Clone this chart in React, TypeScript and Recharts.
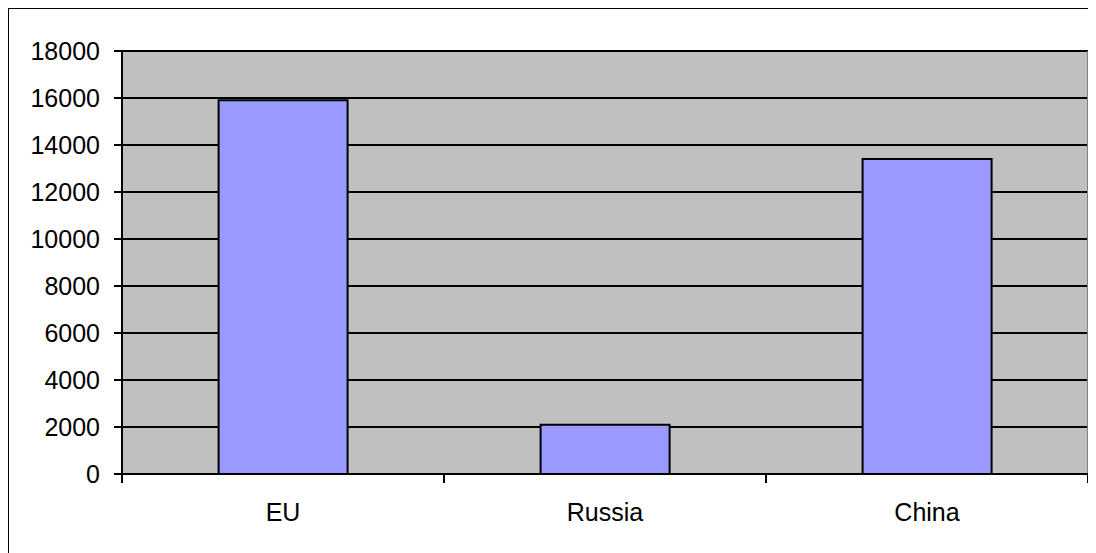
import React from 'react';
import { BarChart, Bar, XAxis, YAxis, CartesianGrid, ReferenceLine } from 'recharts';

const categories = ['EU', 'Russia', 'China'];
const values = [15900, 2100, 13400];
const yTicks = [0, 2000, 4000, 6000, 8000, 10000, 12000, 14000, 16000, 18000];

const data = categories.map((name, i) => ({ name, value: values[i] }));

const FONT = '"Liberation Sans", Arial, sans-serif';
const font = { fontFamily: FONT, fontSize: 25, fill: '#000' };

const CategoryTick = (props: any) => {
  const { x, y, payload, index, visibleTicksCount } = props;
  const half = payload && payload.offset ? payload.offset : 0;
  const axisY = y - 29;
  const last = index === (visibleTicksCount ?? categories.length) - 1;
  return (
    <g>
      <line x1={x - half} x2={x - half} y1={axisY} y2={axisY + 9} stroke="#000" strokeWidth={2} />
      {last && (
        <line x1={x + half} x2={x + half} y1={axisY} y2={axisY + 9} stroke="#000" strokeWidth={2} />
      )}
      <text x={x} y={y} dy="0.71em" textAnchor="middle" fontFamily={FONT} fontSize={25} fill="#000">
        {payload.value}
      </text>
    </g>
  );
};

export default function App() {
  return (
    <div style={{ position: 'relative', width: 1088, height: 545 }}>
      <div style={{ position: 'absolute', left: -1, top: -1, width: 1089, height: 2, background: '#000' }} />
      <div style={{ position: 'absolute', left: -1, top: -1, width: 2, height: 546, background: '#000' }} />
      <BarChart
        width={1088}
        height={545}
        data={data}
        margin={{ top: 43, right: 8, bottom: 19, left: 0 }}
        barCategoryGap="30%"
      >
        <CartesianGrid
          vertical={false}
          fill="#C0C0C0"
          fillOpacity={1}
          stroke="#000"
          strokeWidth={2}
        />
        <XAxis
          dataKey="name"
          height={60}
          axisLine={{ stroke: '#000', strokeWidth: 2 }}
          tickLine={false}
          tickSize={9}
          tickMargin={20}
          tick={<CategoryTick />}
          interval={0}
        />
        <YAxis
          width={114}
          domain={[0, 18000]}
          ticks={yTicks}
          interval={0}
          tickSize={8}
          tickMargin={14}
          tick={font}
          tickLine={{ stroke: '#000', strokeWidth: 2 }}
          axisLine={{ stroke: '#000', strokeWidth: 2 }}
        />
        <ReferenceLine x="China" position="end" stroke="#808080" strokeWidth={2} />
        <Bar
          dataKey="value"
          fill="#9999FF"
          stroke="#000"
          strokeWidth={2}
          isAnimationActive={false}
        />
      </BarChart>
    </div>
  );
}
